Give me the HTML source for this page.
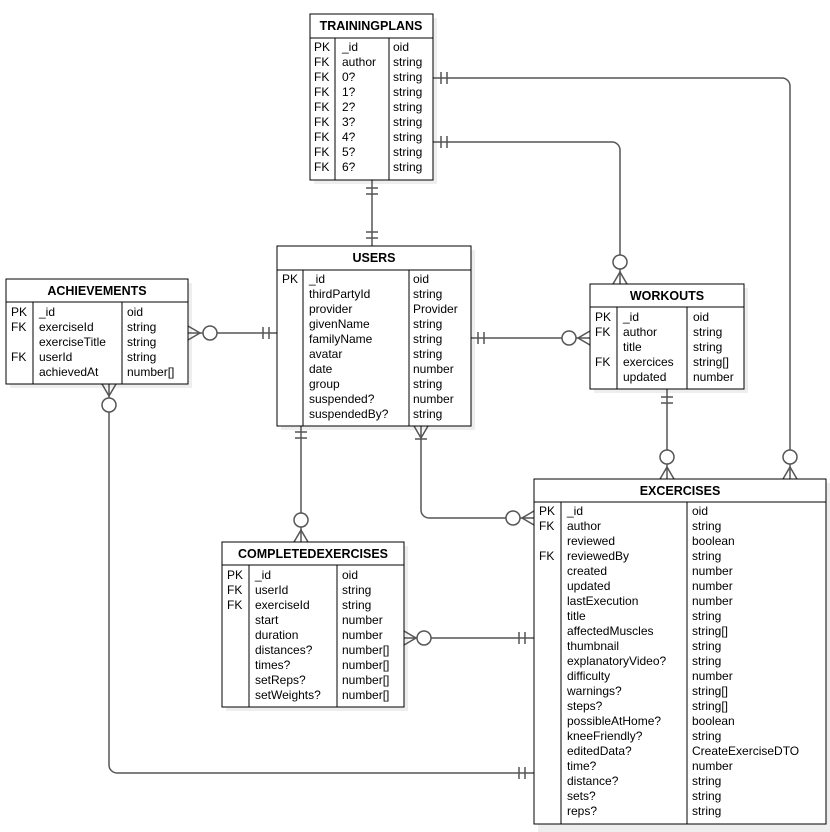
<!DOCTYPE html>
<html><head><meta charset="utf-8"><style>
body{margin:0;background:#fff}
svg{display:block;font-family:"Liberation Sans",sans-serif;font-size:12px}
.b{fill:#fff;stroke:#000;stroke-width:1}
.s{fill:#eee}
.l{stroke:#555;stroke-width:1.5;fill:none}
.h{font-size:12.5px;font-weight:bold;text-anchor:middle}
</style></head><body>
<svg width="830" height="832" viewBox="0 0 830 832" xmlns="http://www.w3.org/2000/svg">
<!-- shadows -->
<rect class="s" x="314" y="18" width="123" height="166"/>
<rect class="s" x="281" y="250" width="194" height="180"/>
<rect class="s" x="10" y="283" width="182" height="105"/>
<rect class="s" x="594" y="288" width="154" height="105"/>
<rect class="s" x="538" y="483" width="292" height="349"/>
<rect class="s" x="226" y="546" width="182" height="165"/>

<!-- connectors -->
<g class="l">
<path d="M372 180V246"/><path d="M366 188h12M366 194h12M366 232h12M366 238h12"/>
<path d="M433 78H782a8 8 0 0 1 8 8V479"/><path d="M441 72v12M447 72v12"/>
<circle cx="790" cy="457" r="7" fill="#fff"/><path d="M783 479l7-12 7 12"/>
<path d="M433 142H612a8 8 0 0 1 8 8V284"/><path d="M441 136v12M447 136v12"/>
<circle cx="620" cy="262" r="7" fill="#fff"/><path d="M613 284l7-12 7 12"/>
<path d="M188 333H277"/><path d="M188 326l12 7-12 7"/><circle cx="210" cy="333" r="7" fill="#fff"/><path d="M263 327v12M269 327v12"/>
<path d="M471 338H590"/><path d="M478 332v12M484 332v12"/><circle cx="569" cy="338" r="7" fill="#fff"/><path d="M590 331l-12 7 12 7"/>
<path d="M667 389V479"/><path d="M661 397h12M661 403h12"/><circle cx="667" cy="457" r="7" fill="#fff"/><path d="M660 479l7-12 7 12"/>
<path d="M421 426V510a8 8 0 0 0 8 8H534"/><path d="M414 426l7 12 7-12M415 439h12"/><circle cx="513" cy="518" r="7" fill="#fff"/><path d="M534 511l-12 7 12 7"/>
<path d="M301 426V542"/><path d="M295 432h12M295 438h12"/><circle cx="301" cy="520" r="7" fill="#fff"/><path d="M294 542l7-12 7 12"/>
<path d="M404 638H534"/><path d="M404 631l12 7-12 7"/><circle cx="424" cy="638" r="7" fill="#fff"/><path d="M519 632v12M525 632v12"/>
<path d="M109 384V765a8 8 0 0 0 8 8H534"/><path d="M102 384l7 12 7-12"/><circle cx="109" cy="405" r="7" fill="#fff"/><path d="M519 767v12M525 767v12"/>
</g>

<!-- TRAININGPLANS -->
<rect class="b" x="310" y="14" width="123" height="166"/>
<path d="M310 38H433M335 38V180M389 38V180" stroke="#000"/>
<text class="h" x="371" y="30">TRAININGPLANS</text>
<g>
<text x="314" y="51">PK</text><text x="342" y="51">_id</text><text x="393" y="51">oid</text>
<text x="314" y="66">FK</text><text x="342" y="66">author</text><text x="393" y="66">string</text>
<text x="314" y="81">FK</text><text x="342" y="81">0?</text><text x="393" y="81">string</text>
<text x="314" y="96">FK</text><text x="342" y="96">1?</text><text x="393" y="96">string</text>
<text x="314" y="111">FK</text><text x="342" y="111">2?</text><text x="393" y="111">string</text>
<text x="314" y="126">FK</text><text x="342" y="126">3?</text><text x="393" y="126">string</text>
<text x="314" y="141">FK</text><text x="342" y="141">4?</text><text x="393" y="141">string</text>
<text x="314" y="156">FK</text><text x="342" y="156">5?</text><text x="393" y="156">string</text>
<text x="314" y="171">FK</text><text x="342" y="171">6?</text><text x="393" y="171">string</text>
</g>

<!-- USERS -->
<rect class="b" x="277" y="246" width="194" height="180"/>
<path d="M277 270H471M303 270V426M409 270V426" stroke="#000"/>
<text class="h" x="374" y="262">USERS</text>
<text x="282" y="283">PK</text>
<g>
<text x="309" y="283">_id</text><text x="413" y="283">oid</text>
<text x="309" y="298">thirdPartyId</text><text x="413" y="298">string</text>
<text x="309" y="313">provider</text><text x="413" y="313">Provider</text>
<text x="309" y="328">givenName</text><text x="413" y="328">string</text>
<text x="309" y="343">familyName</text><text x="413" y="343">string</text>
<text x="309" y="358">avatar</text><text x="413" y="358">string</text>
<text x="309" y="373">date</text><text x="413" y="373">number</text>
<text x="309" y="388">group</text><text x="413" y="388">string</text>
<text x="309" y="403">suspended?</text><text x="413" y="403">number</text>
<text x="309" y="418">suspendedBy?</text><text x="413" y="418">string</text>
</g>

<!-- ACHIEVEMENTS -->
<rect class="b" x="6" y="279" width="182" height="105"/>
<path d="M6 302H188M33 302V384M122 302V384" stroke="#000"/>
<text class="h" x="97" y="295">ACHIEVEMENTS</text>
<text x="11" y="316">PK</text><text x="39" y="316">_id</text><text x="127" y="316">oid</text>
<text x="11" y="331">FK</text><text x="39" y="331">exerciseId</text><text x="127" y="331">string</text>
<text x="39" y="346">exerciseTitle</text><text x="127" y="346">string</text>
<text x="11" y="361">FK</text><text x="39" y="361">userId</text><text x="127" y="361">string</text>
<text x="39" y="376">achievedAt</text><text x="127" y="376">number[]</text>

<!-- WORKOUTS -->
<rect class="b" x="590" y="284" width="154" height="105"/>
<path d="M590 307H744M617 307V389M687 307V389" stroke="#000"/>
<text class="h" x="667" y="300">WORKOUTS</text>
<text x="595" y="321">PK</text><text x="623" y="321">_id</text><text x="693" y="321">oid</text>
<text x="595" y="336">FK</text><text x="623" y="336">author</text><text x="693" y="336">string</text>
<text x="623" y="351">title</text><text x="693" y="351">string</text>
<text x="595" y="366">FK</text><text x="623" y="366">exercices</text><text x="693" y="366">string[]</text>
<text x="623" y="381">updated</text><text x="693" y="381">number</text>

<!-- EXCERCISES -->
<rect class="b" x="534" y="479" width="292" height="345"/>
<path d="M534 502H826M561 502V824M687 502V824" stroke="#000"/>
<text class="h" x="680" y="495">EXCERCISES</text>
<text x="539" y="515">PK</text><text x="539" y="530">FK</text><text x="539" y="560">FK</text>
<g>
<text x="567" y="515">_id</text><text x="692" y="515">oid</text>
<text x="567" y="530">author</text><text x="692" y="530">string</text>
<text x="567" y="545">reviewed</text><text x="692" y="545">boolean</text>
<text x="567" y="560">reviewedBy</text><text x="692" y="560">string</text>
<text x="567" y="575">created</text><text x="692" y="575">number</text>
<text x="567" y="590">updated</text><text x="692" y="590">number</text>
<text x="567" y="605">lastExecution</text><text x="692" y="605">number</text>
<text x="567" y="620">title</text><text x="692" y="620">string</text>
<text x="567" y="635">affectedMuscles</text><text x="692" y="635">string[]</text>
<text x="567" y="650">thumbnail</text><text x="692" y="650">string</text>
<text x="567" y="665">explanatoryVideo?</text><text x="692" y="665">string</text>
<text x="567" y="680">difficulty</text><text x="692" y="680">number</text>
<text x="567" y="695">warnings?</text><text x="692" y="695">string[]</text>
<text x="567" y="710">steps?</text><text x="692" y="710">string[]</text>
<text x="567" y="725">possibleAtHome?</text><text x="692" y="725">boolean</text>
<text x="567" y="740">kneeFriendly?</text><text x="692" y="740">string</text>
<text x="567" y="755">editedData?</text><text x="692" y="755">CreateExerciseDTO</text>
<text x="567" y="770">time?</text><text x="692" y="770">number</text>
<text x="567" y="785">distance?</text><text x="692" y="785">string</text>
<text x="567" y="800">sets?</text><text x="692" y="800">string</text>
<text x="567" y="815">reps?</text><text x="692" y="815">string</text>
</g>

<!-- COMPLETEDEXERCISES -->
<rect class="b" x="222" y="542" width="182" height="165"/>
<path d="M222 565H404M249 565V707M337 565V707" stroke="#000"/>
<text class="h" x="313" y="558">COMPLETEDEXERCISES</text>
<text x="227" y="579">PK</text><text x="227" y="594">FK</text><text x="227" y="609">FK</text>
<text x="255" y="579">_id</text><text x="342" y="579">oid</text>
<text x="255" y="594">userId</text><text x="342" y="594">string</text>
<text x="255" y="609">exerciseId</text><text x="342" y="609">string</text>
<text x="255" y="624">start</text><text x="342" y="624">number</text>
<text x="255" y="639">duration</text><text x="342" y="639">number</text>
<text x="255" y="654">distances?</text><text x="342" y="654">number[]</text>
<text x="255" y="669">times?</text><text x="342" y="669">number[]</text>
<text x="255" y="684">setReps?</text><text x="342" y="684">number[]</text>
<text x="255" y="699">setWeights?</text><text x="342" y="699">number[]</text>
</svg>
</body></html>
